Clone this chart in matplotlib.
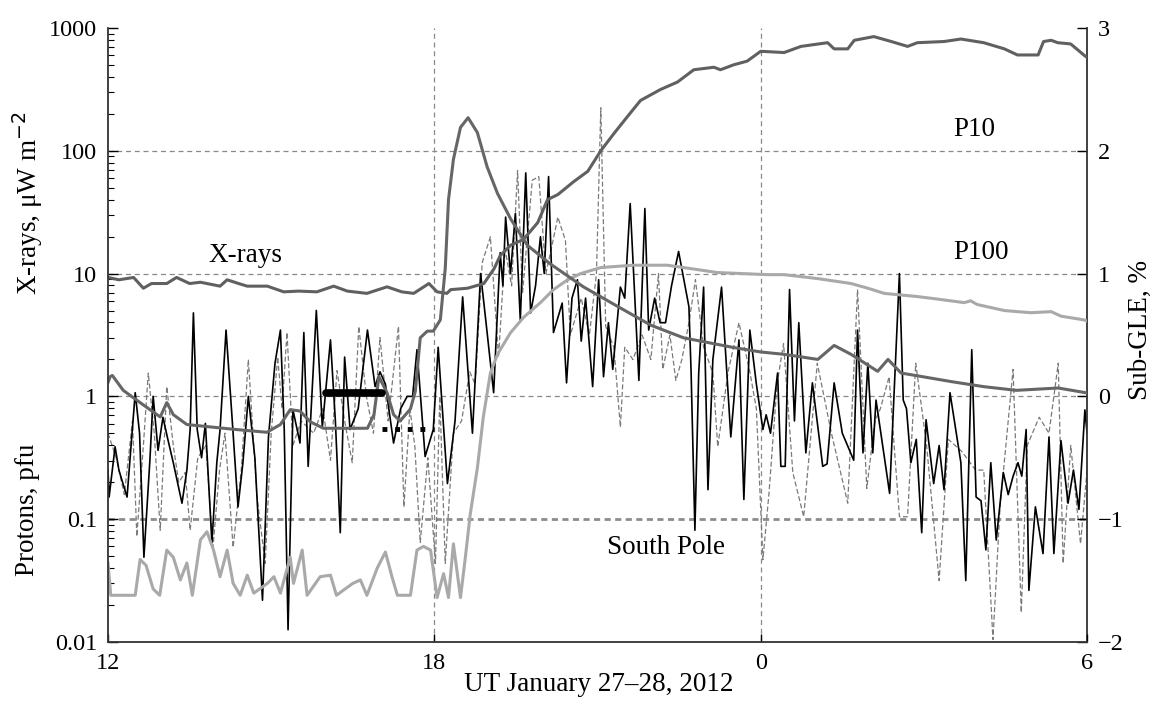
import numpy as np
import matplotlib
matplotlib.use("Agg")
import matplotlib.pyplot as plt

plt.rcParams['font.family'] = ['Liberation Serif', 'DejaVu Serif']
plt.rcParams['font.size'] = 17.5

# time axis: hours UT from 12 UT Jan 27 (24 = 0 UT Jan 28)
xticks = [12, 18, 24, 30]
xticklabels = ["12", "18", "0", "6"]

# GOES X-rays, uW m^-2
xray_t = [12.0, 12.04, 12.08, 12.28, 12.59, 12.96, 13.08, 13.2, 13.45, 14.3, 14.92, 15.17,
          15.35, 15.53, 15.72, 15.96, 16.77, 16.89, 16.98, 17.13, 17.25, 17.37, 17.56, 17.65,
          17.74, 17.87, 17.98, 18.11, 18.2, 18.26, 18.35, 18.48, 18.62, 18.79, 18.97, 19.16,
          19.4, 19.71, 20.13, 20.74, 21.37, 21.98, 22.58, 23.5, 24.0, 24.43, 25.05, 25.35,
          25.66, 26.15, 26.34, 26.58, 27.5, 28.1, 28.7, 29.47, 29.98]
xray_v = [1.3, 1.45, 1.48, 1.12, 0.89, 0.68, 0.89, 0.71, 0.59, 0.54, 0.51, 0.59,
          0.78, 0.76, 0.62, 0.55, 0.55, 0.71, 1.45, 1.07, 0.71, 0.63, 0.79, 1.1,
          3.0, 3.4, 3.4, 4.2, 11, 40, 85, 155, 186, 141, 74, 45,
          28, 17, 12, 7.8, 5.4, 3.8, 3.0, 2.5, 2.3, 2.2, 2.0, 2.6,
          2.2, 1.6, 2.0, 1.55, 1.32, 1.2, 1.12, 1.17, 1.07]

# GOES protons >10 MeV, pfu
p10_t = [12.0, 12.2, 12.47, 12.65, 12.8, 13.08, 13.26, 13.5, 13.7, 14.06, 14.19, 14.4,
         14.56, 14.93, 15.23, 15.5, 15.84, 16.15, 16.4, 16.76, 17.13, 17.4, 17.62, 17.9,
         18.05, 18.23, 18.3, 18.61, 18.91, 19.1, 19.21, 19.4, 19.64, 19.9, 20.08, 20.27,
         20.56, 20.82, 21.06, 21.3, 21.55, 21.79, 22.16, 22.47, 22.77, 23.14, 23.26, 23.5,
         23.75, 24.0, 24.43, 24.74, 25.23, 25.35, 25.6, 25.72, 26.08, 26.4, 26.7, 26.88,
         27.37, 27.68, 28.1, 28.48, 28.72, 29.1, 29.2, 29.34, 29.46, 29.7, 29.94, 30.0]
p10_v = [9.3, 8.9, 9.3, 7.6, 8.3, 8.3, 9.3, 8.3, 8.5, 7.9, 8.9, 8.3,
         7.9, 7.9, 7.1, 7.2, 7.1, 7.9, 7.2, 6.9, 7.8, 7.1, 6.9, 8.3,
         7.1, 6.9, 7.4, 7.6, 8.3, 11, 14, 17, 19, 26, 40, 44,
         56, 68, 100, 138, 190, 257, 316, 363, 457, 479, 457, 501,
         537, 646, 631, 708, 759, 676, 676, 794, 851, 776, 708, 759,
         776, 813, 759, 676, 603, 603, 776, 794, 759, 741, 603, 575]

# GOES protons >100 MeV, pfu
p100_t = [12.0, 12.05, 12.5, 12.59, 12.7, 12.83, 12.95, 13.08, 13.2, 13.33, 13.45, 13.55,
          13.7, 13.82, 13.94, 14.06, 14.19, 14.3, 14.43, 14.56, 14.68, 14.93, 15.05, 15.17,
          15.35, 15.41, 15.57, 15.66, 15.9, 16.09, 16.2, 16.5, 16.64, 16.76, 16.95, 17.1,
          17.22, 17.32, 17.56, 17.68, 17.8, 17.93, 18.05, 18.17, 18.26, 18.35, 18.48, 18.57,
          18.66, 18.79, 18.9, 19.03, 19.16, 19.4, 19.64, 19.95, 20.19, 20.45, 20.69, 21.06,
          21.66, 22.28, 22.58, 23.2, 24.13, 24.43, 25.05, 25.66, 25.97, 26.27, 26.88, 27.25,
          27.74, 27.86, 27.98, 28.48, 28.72, 28.97, 29.34, 29.52, 29.94, 30.0]
p100_v = [0.044, 0.024, 0.024, 0.047, 0.042, 0.027, 0.024, 0.056, 0.049, 0.032, 0.044, 0.024,
          0.068, 0.079, 0.056, 0.034, 0.056, 0.030, 0.024, 0.035, 0.025, 0.030, 0.034, 0.025,
          0.049, 0.030, 0.056, 0.024, 0.034, 0.035, 0.024, 0.030, 0.032, 0.024, 0.040, 0.054,
          0.034, 0.024, 0.024, 0.056, 0.060, 0.056, 0.023, 0.036, 0.023, 0.063, 0.023, 0.049,
          0.11, 0.26, 0.68, 1.55, 2.2, 3.3, 4.4, 5.8, 7.4, 8.9, 10, 11.2,
          11.7, 11.7, 11.2, 10.2, 9.8, 9.8, 9.1, 8.3, 7.6, 6.9, 6.5, 6.2,
          5.8, 6.0, 5.6, 5.0, 4.9, 4.8, 4.9, 4.5, 4.2, 4.1]

# South Pole sub-GLE, % (black solid)
sp1_t = [12.0, 12.02, 12.13, 12.2, 12.35, 12.5, 12.58, 12.66, 12.77, 12.83, 12.92, 13.01,
         13.1, 13.2, 13.36, 13.45, 13.51, 13.57, 13.64, 13.72, 13.79, 13.91, 14.0, 14.06,
         14.17, 14.28, 14.39, 14.48, 14.58, 14.7, 14.84, 14.95, 15.07, 15.17, 15.24, 15.31,
         15.4, 15.53, 15.6, 15.68, 15.83, 15.94, 16.09, 16.18, 16.27, 16.35, 16.45, 16.6,
         16.77, 16.91, 17.0, 17.1, 17.25, 17.38, 17.5, 17.6, 17.68, 17.83, 17.98, 18.07,
         18.24, 18.38, 18.52, 18.7, 18.85, 18.95, 19.09, 19.15, 19.21, 19.26, 19.31, 19.4,
         19.49, 19.58, 19.68, 19.77, 19.86, 19.95, 20.02, 20.1, 20.19, 20.35, 20.43, 20.53,
         20.63, 20.7, 20.78, 20.91, 21.02, 21.11, 21.2, 21.28, 21.42, 21.5, 21.6, 21.76,
         21.87, 21.94, 22.05, 22.15, 22.25, 22.36, 22.49, 22.68, 22.72, 22.79, 22.86, 22.95,
         23.03, 23.12, 23.28, 23.45, 23.6, 23.69, 23.8, 23.92, 24.04, 24.1, 24.18, 24.31,
         24.37, 24.45, 24.53, 24.62, 24.7, 24.83, 24.95, 25.14, 25.22, 25.35, 25.5, 25.71,
         25.78, 25.88, 25.97, 26.06, 26.12, 26.37, 26.45, 26.55, 26.62, 26.68, 26.76, 26.86,
         26.96, 27.04, 27.18, 27.28, 27.37, 27.48, 27.56, 27.68, 27.77, 27.88, 27.96, 28.05,
         28.14, 28.23, 28.33, 28.46, 28.55, 28.64, 28.73, 28.8, 28.88, 28.93, 29.05, 29.19,
         29.3, 29.39, 29.52, 29.65, 29.75, 29.85, 29.96, 30.0]
sp1_v = [-0.6, -0.82, -0.41, -0.6, -0.82, 0.03, -0.3, -1.31, -0.52, 0.0, -0.44, -0.17,
         -0.35, -0.54, -0.87, -0.6, -0.27, 0.68, -0.27, -0.5, -0.22, -1.19, -0.54, -0.27,
         0.54, -0.17, -0.9, -0.54, 0.0, -0.5, -1.66, -0.33, 0.27, 0.54, -0.27, -1.9,
         -0.11, -0.38, 0.52, -0.57, 0.7, -0.25, 0.46, -0.2, -1.11, 0.32, -0.27, -0.1,
         0.54, 0.08, 0.2, 0.1, -0.38, -0.1, 0.0, 0.0, 0.38, -0.49, -0.27, 0.4,
         -0.71, -0.2, 0.81, -0.3, 1.0, 0.6, 0.03, 0.6, 1.17, 0.9, 1.46, 1.0,
         1.49, 0.62, 1.82, 0.68, 0.9, 1.3, 1.0, 1.79, 0.52, 0.76, 0.11, 0.8,
         0.95, 0.45, 0.8, 0.08, 0.95, 0.16, 0.6, 0.22, 0.89, 0.8, 1.57, 0.13,
         1.53, 0.54, 0.8, 0.6, 0.6, 0.9, 1.18, 0.73, 0.2, -1.09, 0.19, 0.89,
         -0.76, 0.3, 0.89, -0.33, 0.46, -0.84, 0.54, 0.1, -0.27, -0.15, -0.3, 0.19,
         -0.57, -0.57, 0.87, -0.2, 0.6, -0.46, 0.11, -0.57, -0.55, 0.11, -0.3, -0.52,
         0.54, -0.46, 0.27, -0.46, -0.03, -0.79, 0.0, 1.0, -0.03, -0.1, -0.54, -0.35,
         -1.11, -0.19, -0.71, -0.4, -0.76, 0.03, -0.2, -0.54, -1.5, 0.38, -0.82, -0.85,
         -1.25, -0.54, -1.17, -0.62, -0.8, -0.65, -0.54, -0.65, -0.27, -1.58, -0.9, -1.28,
         -0.33, -1.28, -0.36, -0.87, -0.6, -0.92, -0.11, -0.3]

# South Pole sub-GLE, % (grey dashed)
sp2_t = [12.0, 12.15, 12.3, 12.45, 12.53, 12.65, 12.74, 12.85, 12.96, 13.08, 13.2, 13.3,
         13.42, 13.51, 13.65, 13.8, 13.93, 14.05, 14.15, 14.3, 14.45, 14.58, 14.74, 14.89,
         15.0, 15.12, 15.2, 15.29, 15.4, 15.55, 15.78, 15.95, 16.09, 16.21, 16.35, 16.49,
         16.61, 16.75, 16.88, 17.0, 17.15, 17.34, 17.44, 17.55, 17.64, 17.74, 17.88, 18.02,
         18.1, 18.2, 18.35, 18.5, 18.65, 18.75, 18.88, 19.03, 19.18, 19.3, 19.42, 19.53,
         19.62, 19.8, 19.92, 20.05, 20.15, 20.27, 20.41, 20.5, 20.7, 20.85, 20.98, 21.06,
         21.15, 21.3, 21.42, 21.5, 21.65, 21.82, 21.98, 22.12, 22.2, 22.33, 22.44, 22.55,
         22.68, 22.8, 22.95, 23.12, 23.21, 23.4, 23.6, 23.8, 23.92, 24.04, 24.15, 24.3,
         24.42, 24.59, 24.79, 25.04, 25.3, 25.6, 25.78, 25.95, 26.1, 26.2, 26.36, 26.55,
         26.7, 26.85, 27.05, 27.28, 27.45, 27.7, 27.95, 28.1, 28.27, 28.4, 28.64, 28.79,
         28.9, 29.12, 29.3, 29.47, 29.56, 29.7, 29.88, 30.0]
sp2_v = [-0.3, -0.5, -0.8, -0.2, -1.14, -0.4, 0.19, -0.3, -1.09, 0.08, -0.4, -0.7,
         -0.62, -1.09, -0.5, -0.4, -1.23, -0.6, -0.3, -1.23, -0.6, 0.3, -0.82, -1.36,
         -0.3, 0.32, -0.1, 0.52, -0.4, -0.2, -0.3, -0.1, -0.52, 0.21, -0.2, -0.54,
         0.57, 0.0, -0.3, 0.48, -0.2, 0.57, -0.9, -0.1, -0.4, -1.19, -0.5, -1.36,
         0.0, -1.36, -0.3, -0.2, 0.2, 0.1, 1.09, 1.3, 0.32, 1.2, 0.9, 1.84,
         0.84, 1.76, 1.79, 1.0, 1.2, 1.46, 1.27, 0.5, 0.8, 0.5, 1.0, 2.35,
         0.57, 0.4, -0.25, 0.4, 0.3, 0.5, 0.3, 1.0, 0.22, 0.5, 0.13, 0.3,
         0.6, 0.95, 0.4, 0.19, -0.41, 0.2, 0.6, 0.2, -0.1, -1.33, -0.8, 0.1,
         0.43, -0.62, -0.98, 0.27, -0.3, -0.87, 0.87, -0.75, -0.2, -0.1, 0.16, -0.98,
         -0.98, 0.27, -0.4, -1.5, -0.35, -0.45, -0.6, -0.6, -1.98, -0.9, 0.22, -1.76,
         -0.4, -0.17, -0.3, 0.27, -1.36, -0.4, -1.2, -0.6]

# onset markers
bar_t = [16.0, 17.04]
bar_v = 1.07
dot_t = [17.04, 18.0]
dot_v = 0.54

fig = plt.figure(figsize=(11.54, 7.05), dpi=100)
ax = fig.add_axes([0.0936, 0.0894, 0.8484, 0.8709])
ax2 = ax.twinx()

# right axis: grid + South Pole
ax2.set_ylim(-2, 3)
for y in [2, 1, 0]:
    ax2.axhline(y, color='#888888', lw=0.9, ls=(0, (4, 3)), zorder=0)
ax2.axhline(-1, color='#8c8c8c', lw=2.0, ls=(0, (2.2, 1.6)), zorder=0)
for x in [18, 24]:
    ax2.axvline(x, color='#888888', lw=0.9, ls=(0, (4, 3)), zorder=0)
ax2.plot(sp2_t, sp2_v, color='#7a7a7a', lw=0.9, ls=(0, (4, 2)), zorder=1)
ax2.plot(sp1_t, sp1_v, color='black', lw=1.2, zorder=2)

# left axis: GOES curves on top
ax.set_zorder(ax2.get_zorder() + 1)
ax.patch.set_visible(False)
ax.set_yscale('log')
ax.set_ylim(0.01, 1000)
ax.set_xlim(12, 30)
ax.plot(p100_t, p100_v, color='#a9a9a9', lw=2.2)
ax.plot(p10_t, p10_v, color='#606060', lw=2.2)
ax.plot(xray_t, xray_v, color='#666666', lw=2.2)
ax.plot(bar_t, [bar_v, bar_v], color='black', lw=5.5, solid_capstyle='round')
ax.plot(dot_t, [dot_v, dot_v], color='black', lw=3.5, ls=(0, (1, 1.6)))

ax.text(14.52, 14.1, "X-rays", ha='center', va='center', fontsize=19.5)
ax.text(27.92, 148, "P10", ha='center', va='center', fontsize=19.5)
ax.text(28.05, 14.8, "P100", ha='center', va='center', fontsize=19.5)
ax.text(22.25, 0.059, "South Pole", ha='center', va='center', fontsize=19.5)

# ticks
ax.set_yticks([0.01, 0.1, 1, 10, 100, 1000])
ax.set_yticklabels(["0.01", "0.1", "1", "10", "100", "1000"])
ax.tick_params(axis='y', which='major', direction='in', length=7, width=1, pad=8)
ax.tick_params(axis='y', which='minor', direction='in', length=4, width=0.8)
ax.set_xticks(xticks)
ax.set_xticklabels(xticklabels)
ax.tick_params(axis='x', direction='in', length=6, width=1, pad=8)
ax2.set_yticks([-2, -1, 0, 1, 2, 3])
ax2.tick_params(axis='y', direction='in', length=7, width=1, pad=8)

for a in (ax, ax2):
    a.spines['top'].set_visible(False)
ax.spines['right'].set_visible(False)
ax2.spines['left'].set_visible(False)
ax2.spines['bottom'].set_visible(False)
for s in ['left', 'bottom']:
    ax.spines[s].set_color('#333333')
    ax.spines[s].set_linewidth(1.3)
ax2.spines['right'].set_color('#333333')
ax2.spines['right'].set_linewidth(1.3)

fig.text(0.5185, 0.012, "UT January 27\u201328, 2012", ha='center', va='bottom', fontsize=19.5)
fig.text(0.024, 0.712, "X-rays, \u03bcW m$^{\u22122}$", rotation=90, ha='center', va='center', fontsize=19.5)
fig.text(0.024, 0.277, "Protons, pfu", rotation=90, ha='center', va='center', fontsize=19.5)
fig.text(0.988, 0.532, "Sub-GLE, %", rotation=90, ha='center', va='center', fontsize=19.5)

fig.savefig("out.png", dpi=100)
